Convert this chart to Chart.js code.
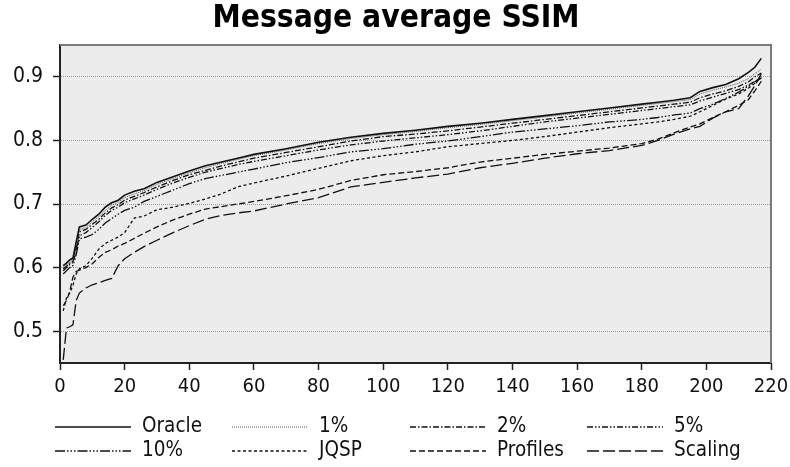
<!DOCTYPE html>
<html>
<head>
<meta charset="utf-8">
<title>Message average SSIM</title>
<script src="https://cdn.jsdelivr.net/npm/chart.js@4.4.1/dist/chart.umd.min.js"></script>
<style>
  html, body { margin: 0; padding: 0; background: #fff; }
</style>
</head>
<body>
<canvas id="ssim" width="790" height="467"></canvas>
<script>
// sorted per-message SSIM, one array per method
const titleText = 'Message average SSIM';
const xTicks = [0, 20, 40, 60, 80, 100, 120, 140, 160, 180, 200, 220];
const yTicks = [0.5, 0.6, 0.7, 0.8, 0.9];

const msgIndex = [1, 2, 3, 4, 5, 6, 8, 10, 12, 14, 16, 18, 20, 23, 26, 30, 35, 40, 45, 50, 55, 60,
  70, 80, 90, 100, 110, 120, 130, 140, 150, 160, 170, 180, 185, 190, 195, 198, 202, 206, 210, 213, 215, 217];

const oracle = [0.603, 0.607, 0.612, 0.615, 0.640, 0.664, 0.667, 0.676, 0.684, 0.695, 0.702, 0.706, 0.714,
  0.720, 0.724, 0.734, 0.743, 0.752, 0.760, 0.766, 0.772, 0.778, 0.787, 0.797, 0.805, 0.811, 0.816, 0.822,
  0.827, 0.833, 0.839, 0.845, 0.851, 0.857, 0.860, 0.863, 0.867, 0.877, 0.883, 0.888, 0.897, 0.907, 0.915, 0.929];
const pct1 = [0.600, 0.605, 0.608, 0.612, 0.635, 0.660, 0.663, 0.672, 0.680, 0.690, 0.698, 0.703, 0.710,
  0.716, 0.721, 0.731, 0.740, 0.749, 0.757, 0.764, 0.770, 0.776, 0.785, 0.795, 0.803, 0.809, 0.814, 0.820,
  0.825, 0.831, 0.837, 0.843, 0.849, 0.855, 0.858, 0.861, 0.864, 0.873, 0.879, 0.884, 0.890, 0.897, 0.905, 0.912];
const pct2 = [0.598, 0.602, 0.607, 0.610, 0.630, 0.656, 0.660, 0.668, 0.676, 0.686, 0.694, 0.699, 0.706,
  0.712, 0.718, 0.727, 0.737, 0.746, 0.753, 0.760, 0.766, 0.772, 0.781, 0.790, 0.799, 0.806, 0.810, 0.815,
  0.821, 0.827, 0.833, 0.839, 0.845, 0.851, 0.854, 0.857, 0.860, 0.867, 0.873, 0.878, 0.885, 0.892, 0.900, 0.906];
const pct5 = [0.595, 0.600, 0.605, 0.608, 0.625, 0.650, 0.655, 0.663, 0.672, 0.682, 0.690, 0.695, 0.702,
  0.708, 0.714, 0.723, 0.733, 0.742, 0.750, 0.756, 0.762, 0.767, 0.776, 0.785, 0.793, 0.799, 0.804, 0.809,
  0.815, 0.822, 0.829, 0.835, 0.841, 0.847, 0.850, 0.853, 0.856, 0.862, 0.868, 0.874, 0.880, 0.887, 0.893, 0.899];
const pct10 = [0.590, 0.595, 0.600, 0.603, 0.620, 0.645, 0.648, 0.652, 0.660, 0.670, 0.677, 0.684, 0.690,
  0.695, 0.704, 0.712, 0.722, 0.732, 0.740, 0.745, 0.750, 0.755, 0.765, 0.773, 0.782, 0.787, 0.794, 0.799,
  0.806, 0.813, 0.818, 0.823, 0.829, 0.833, 0.836, 0.840, 0.843, 0.850, 0.857, 0.866, 0.876, 0.885, 0.892, 0.898];
const jqsp = [0.532, 0.552, 0.560, 0.572, 0.590, 0.598, 0.603, 0.615, 0.629, 0.638, 0.643, 0.648, 0.655,
  0.678, 0.681, 0.691, 0.695, 0.701, 0.708, 0.716, 0.727, 0.733, 0.744, 0.756, 0.768, 0.776, 0.782, 0.790,
  0.795, 0.800, 0.806, 0.813, 0.820, 0.826, 0.829, 0.833, 0.838, 0.845, 0.855, 0.865, 0.873, 0.882, 0.890, 0.900];
const profiles = [0.540, 0.548, 0.562, 0.585, 0.594, 0.596, 0.600, 0.606, 0.616, 0.624, 0.628, 0.634, 0.638,
  0.646, 0.654, 0.664, 0.675, 0.684, 0.692, 0.696, 0.700, 0.704, 0.713, 0.723, 0.737, 0.746, 0.751, 0.757,
  0.766, 0.772, 0.778, 0.783, 0.788, 0.795, 0.802, 0.812, 0.821, 0.826, 0.836, 0.845, 0.855, 0.864, 0.878, 0.893];
const scaling = [0.455, 0.505, 0.507, 0.510, 0.548, 0.560, 0.568, 0.573, 0.576, 0.580, 0.583, 0.603, 0.614,
  0.624, 0.633, 0.643, 0.655, 0.666, 0.676, 0.682, 0.686, 0.689, 0.700, 0.710, 0.727, 0.734, 0.741, 0.747,
  0.757, 0.764, 0.772, 0.779, 0.784, 0.792, 0.800, 0.810, 0.818, 0.822, 0.835, 0.845, 0.850, 0.870, 0.886, 0.905];

const seriesNames = ['Oracle', '1%', '2%', '5%', '10%', 'JQSP', 'Profiles', 'Scaling'];
const seriesValues = [oracle, pct1, pct2, pct5, pct10, jqsp, profiles, scaling];

// line styles, same order as seriesNames
const lineDash = [[], [1, 1], [6, 2, 1.5, 2], [6, 2, 1.5, 2, 1.5, 2], [10, 2, 1.5, 2, 1.5, 2, 1.5, 2],
  [3, 2.5], [6, 3], [12, 4]];
const lineColor = ['#111', '#555', '#111', '#111', '#111', '#111', '#111', '#111'];
const lineWidth = [1.6, 1, 1.3, 1.3, 1.3, 1.3, 1.3, 1.3];

const FONT = "'DejaVu Sans Condensed', 'DejaVu Sans', sans-serif";

const datasets = seriesNames.map((name, i) => ({
  label: name,
  data: msgIndex.map((x, j) => ({ x, y: seriesValues[i][j] })),
  borderColor: lineColor[i],
  borderWidth: lineWidth[i],
  borderDash: lineDash[i],
  pointRadius: 0,
  tension: 0,
  fill: false
}));

// grey plot background, drawn under grid and lines
const plotBackground = {
  id: 'plotBackground',
  beforeDraw(chart) {
    const { ctx, chartArea: a } = chart;
    ctx.save();
    ctx.fillStyle = '#ececec';
    ctx.fillRect(a.left, a.top, a.right - a.left, a.bottom - a.top);
    ctx.restore();
  }
};

// top + right frame edges, title, and the 4-column legend
const decorations = {
  id: 'decorations',
  afterDraw(chart) {
    const { ctx, chartArea: a } = chart;
    ctx.save();
    ctx.strokeStyle = '#7a7a7a';
    ctx.lineWidth = 2;
    ctx.beginPath();
    ctx.moveTo(a.left, a.top);
    ctx.lineTo(a.right, a.top);
    ctx.lineTo(a.right, a.bottom);
    ctx.stroke();

    ctx.fillStyle = '#000';
    ctx.font = 'bold 31.5px ' + FONT;
    ctx.textAlign = 'center';
    ctx.textBaseline = 'middle';
    ctx.fillText(titleText, 396, 19);

    const cols = [55, 232, 410, 587];
    const rows = [427, 451];
    ctx.font = '20.5px ' + FONT;
    ctx.textAlign = 'left';
    chart.data.datasets.forEach((ds, i) => {
      const x = cols[i % 4];
      const y = rows[Math.floor(i / 4)];
      ctx.strokeStyle = ds.borderColor;
      ctx.lineWidth = ds.borderWidth;
      ctx.setLineDash(ds.borderDash);
      ctx.beginPath();
      ctx.moveTo(x, y);
      ctx.lineTo(x + 76, y);
      ctx.stroke();
      ctx.setLineDash([]);
      ctx.fillStyle = '#111';
      ctx.fillText(ds.label, x + 87, y);
    });
    ctx.restore();
  }
};

new Chart(document.getElementById('ssim'), {
  type: 'line',
  data: { datasets },
  options: {
    responsive: false,
    animation: false,
    layout: { padding: { left: 0, right: 19, top: 45, bottom: 60 } },
    plugins: { legend: { display: false }, title: { display: false }, tooltip: { enabled: false } },
    scales: {
      x: {
        type: 'linear',
        min: 0,
        max: 220,
        afterBuildTicks: s => { s.ticks = xTicks.map(v => ({ value: v })); },
        afterFit: s => { s.height = 44; s.paddingLeft = 0; s.paddingRight = 0; },
        grid: { drawOnChartArea: false, drawTicks: true, tickLength: 7, tickColor: '#222', tickWidth: 1.5 },
        border: { color: '#222', width: 2 },
        ticks: { font: { family: FONT, size: 20 }, color: '#111', padding: 5, maxRotation: 0, autoSkip: false }
      },
      y: {
        type: 'linear',
        min: 0.45,
        max: 0.95,
        afterBuildTicks: s => { s.ticks = yTicks.map(v => ({ value: v })); },
        afterFit: s => { s.width = 60; s.paddingTop = 0; s.paddingBottom = 0; },
        grid: { color: '#9a9a9a', lineWidth: 1, drawTicks: true, tickLength: 7, tickColor: '#222', tickWidth: 1.5 },
        border: { color: '#222', width: 2, dash: [1, 1] },
        ticks: { font: { family: FONT, size: 21 }, color: '#111', padding: 10, callback: v => v.toFixed(1) }
      }
    }
  },
  plugins: [plotBackground, decorations]
});
</script>
</body>
</html>
